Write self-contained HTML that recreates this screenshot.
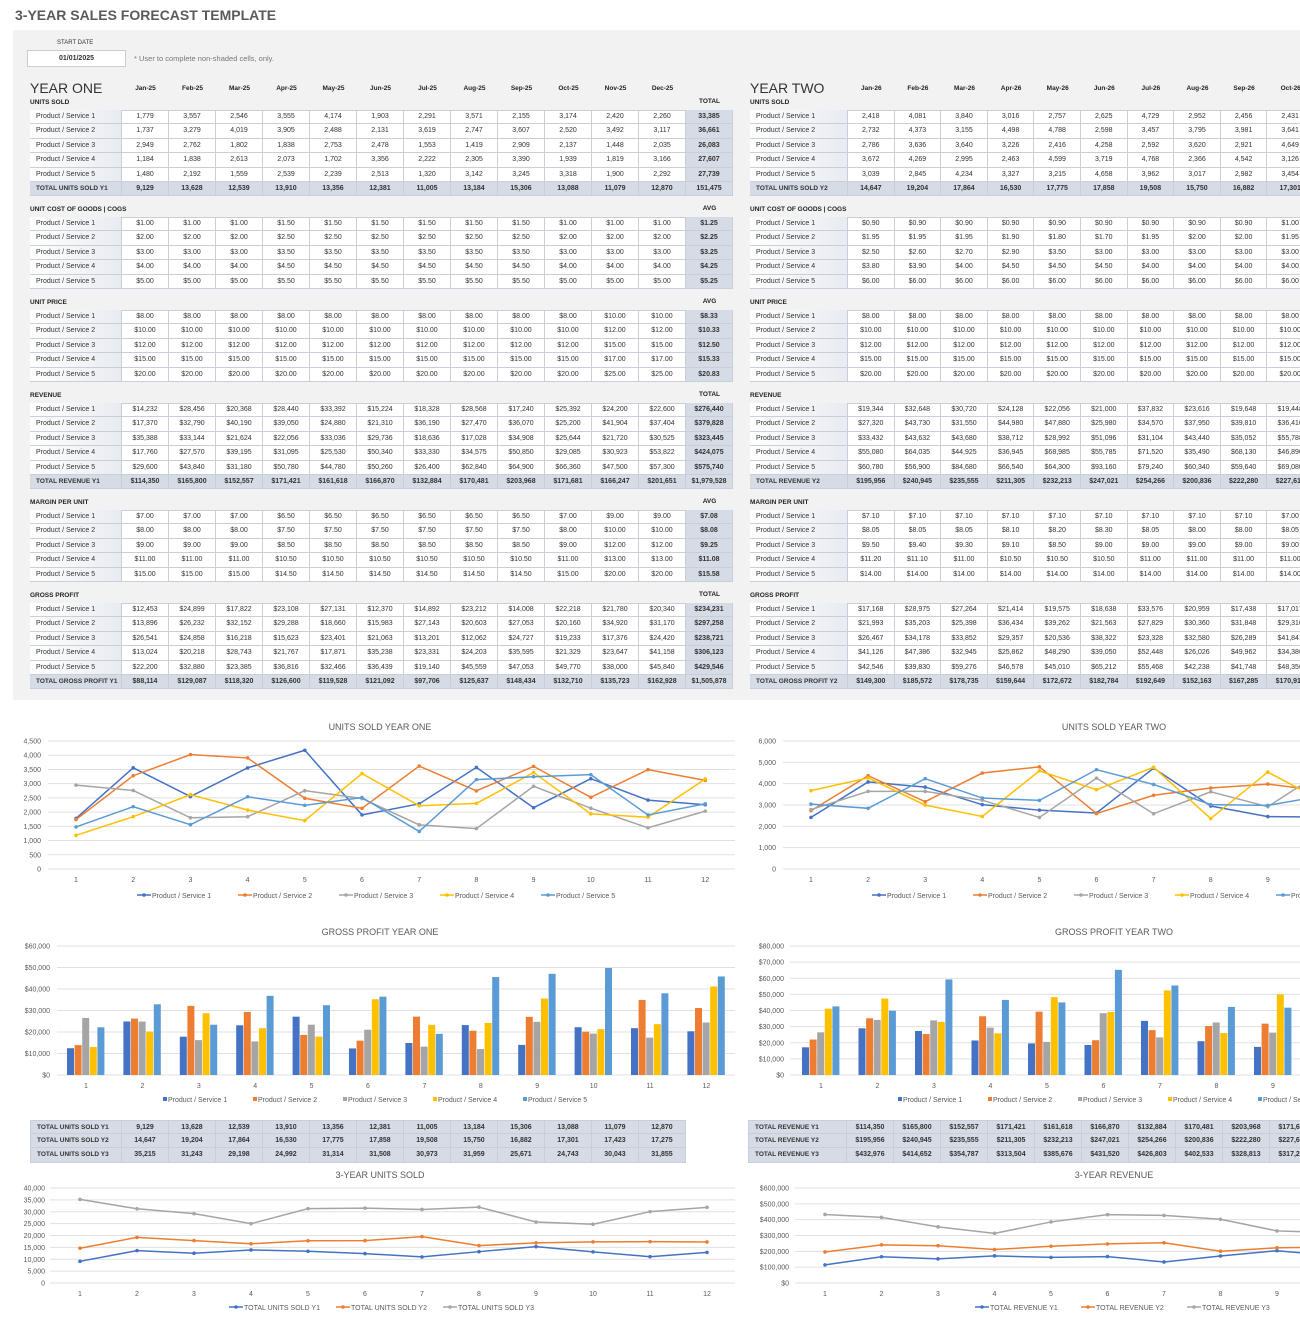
<!DOCTYPE html>
<html><head><meta charset="utf-8">
<style>
html,body{margin:0;padding:0;background:#fff;}
body{width:1300px;height:1337px;overflow:hidden;position:relative;font-family:"Liberation Sans",sans-serif;color:#333;}
.a{position:absolute;white-space:nowrap;}
.c{position:absolute;box-sizing:border-box;border-right:1px solid #c9ced8;border-bottom:1px solid #c9ced8;font-size:7px;line-height:13.4px;text-align:center;white-space:nowrap;overflow:hidden;}
.lab{text-align:left;padding-left:6px;background:linear-gradient(90deg,#fff,#e8ebf1);}
.tot{background:#d6dce6;font-weight:bold;}
.b{font-weight:bold;}
.h{font-size:6.5px;font-weight:bold;color:#222;}
#root{position:absolute;left:0;top:0;width:1300px;height:1337px;overflow:hidden;}
</style></head><body>
<div class="a" style="left:15px;top:7px;font-size:14px;font-weight:bold;color:#5a5a5a;">3-YEAR SALES FORECAST TEMPLATE</div>
<div class="a" style="left:13px;top:30px;width:1287px;height:670px;background:#f2f2f2;"></div>
<div class="a" style="left:57px;top:40px;font-size:6px;">START DATE</div>
<div class="a" style="left:27px;top:50px;width:99px;height:17px;background:#fff;border:1px solid #ccc;box-sizing:border-box;font-size:7px;font-weight:bold;text-align:center;line-height:16px;">01/01/2025</div>
<div class="a" style="left:134px;top:54px;font-size:7.5px;color:#777;">* User to complete non-shaded cells, only.</div>
<div id="root"></div>
<svg id="sv" class="a" style="left:0;top:0" width="1300" height="1337"></svg>
<script>
var R=document.getElementById('root');
function add(x,y,w,h,txt,cls,extra){var d=document.createElement('div');d.className=cls;d.style.left=x+'px';d.style.top=y+'px';if(w)d.style.width=w+'px';if(h)d.style.height=h+'px';d.textContent=txt;if(extra)d.setAttribute('style',d.getAttribute('style')+extra);R.appendChild(d);return d;}
function fi(n){return Math.round(n).toLocaleString('en-US');}
function fd(n){return '$'+Math.round(n).toLocaleString('en-US');}
function f2(n){return '$'+n.toFixed(2);}
var u1=[[1779,3557,2546,3555,4174,1903,2291,3571,2155,3174,2420,2260],[1737,3279,4019,3905,2488,2131,3619,2747,3607,2520,3492,3117],[2949,2762,1802,1838,2753,2478,1553,1419,2909,2137,1448,2035],[1184,1838,2613,2073,1702,3356,2222,2305,3390,1939,1819,3166],[1480,2192,1559,2539,2239,2513,1320,3142,3245,3318,1900,2292]];
var c1=[],p1=[];var bc=[1,2,3,4,5],bp=[8,10,12,15,20],bp2=[10,12,15,17,25];
for(var i=0;i<5;i++){c1.push([]);p1.push([]);for(var m=0;m<12;m++){c1[i].push(bc[i]+(m>=3&&m<=8?0.5:0));p1[i].push(m>=10?bp2[i]:bp[i]);}}
var u2=[[2418,4081,3840,3016,2757,2625,4729,2952,2456,2431,2600,2500],[2732,4373,3155,4498,4788,2598,3457,3795,3981,3641,3700,3600],[2786,3636,3640,3226,2416,4258,2592,3620,2921,4649,3500,3400],[3672,4269,2995,2463,4599,3719,4768,2366,4542,3126,4000,4100],[3039,2845,4234,3327,3215,4658,3962,3017,2982,3454,3623,3675]];
var c2=[[.9,.9,.9,.9,.9,.9,.9,.9,.9,1,1,1],[1.95,1.95,1.95,1.9,1.8,1.7,1.95,2,2,1.95,1.95,1.95],[2.5,2.6,2.7,2.9,3.5,3,3,3,3,3,3,3],[3.8,3.9,4,4.5,4.5,4.5,4,4,4,4,4,4],[6,6,6,6,6,6,6,6,6,6,6,6]];
var p2=[];for(i=0;i<5;i++){p2.push([]);for(m=0;m<12;m++)p2[i].push(bp[i]);}
function calc(u,c,p){var rev=[],mg=[],gp=[];for(var i=0;i<5;i++){rev.push([]);mg.push([]);gp.push([]);for(var m=0;m<12;m++){rev[i].push(u[i][m]*p[i][m]);mg[i].push(p[i][m]-c[i][m]);gp[i].push(u[i][m]*(p[i][m]-c[i][m]));}}return {rev:rev,mg:mg,gp:gp};}
var y1=calc(u1,c1,p1),y2=calc(u2,c2,p2);
function colsum(a){var s=[];for(var m=0;m<12;m++){var t=0;for(var i=0;i<5;i++)t+=a[i][m];s.push(t);}return s;}
var months1=['Jan-25','Feb-25','Mar-25','Apr-25','May-25','Jun-25','Jul-25','Aug-25','Sep-25','Oct-25','Nov-25','Dec-25'];
var months2=['Jan-26','Feb-26','Mar-26','Apr-26','May-26','Jun-26','Jul-26','Aug-26','Sep-26','Oct-26','Nov-26','Dec-26'];
function year(X,LW,CW,title,months,d,yr,hasTot){
 add(X,80,0,0,title,'a','font-size:14px;');
 for(var m=0;m<12;m++)add(X+LW+m*CW,85,CW,0,months[m],'a h','text-align:center;');
 var secs=[['UNITS SOLD',d.u,fi,'TOTAL',1,'TOTAL UNITS SOLD '+yr],['UNIT COST OF GOODS  |  COGS',d.c,f2,'AVG',0],['UNIT PRICE',d.p,f2,'AVG',0],['REVENUE',d.rev,fd,'TOTAL',1,'TOTAL REVENUE '+yr],['MARGIN PER UNIT',d.mg,f2,'AVG',0],['GROSS PROFIT',d.gp,fd,'TOTAL',1,'TOTAL GROSS PROFIT '+yr]];
 var tops=[110,217,310,403,510,603],RH=14.4;
 for(var s=0;s<6;s++){var S=secs[s],T=tops[s];
  add(X,T-11,0,0,S[0],'a h');
  var W=LW+12*CW+(hasTot?47:0);
  add(X,T,W,(S[4]?6:5)*RH,'','a','border-top:1px solid #c9ced8;border-left:1px solid #c9ced8;box-sizing:border-box;background:#fff;');
  if(hasTot)add(X+LW+12*CW,T-12,47,0,S[3],'a h','text-align:center;');
  for(var i=0;i<5;i++){var y=T+i*RH;
   add(X,y,LW,RH,'Product / Service '+(i+1),'c lab');
   var tt=0;for(var m=0;m<12;m++){add(X+LW+m*CW,y,CW,RH,S[2](S[1][i][m]),'c');tt+=S[1][i][m];}
   if(hasTot)add(X+LW+12*CW,y,47,RH,S[2](S[4]?tt:tt/12),'c tot');
  }
  if(S[4]){var y=T+5*RH,cs=colsum(S[1]),g=0;
   add(X,y,LW,RH,S[5],'c tot','text-align:left;padding-left:6px;font-size:6.5px;');
   for(var m=0;m<12;m++){add(X+LW+m*CW,y,CW,RH,S[2](cs[m]),'c tot');g+=cs[m];}
   if(hasTot)add(X+LW+12*CW,y,47,RH,S[2](g),'c tot');
  }
 }
}
year(30,92,47,'YEAR ONE',months1,{u:u1,c:c1,p:p1,rev:y1.rev,mg:y1.mg,gp:y1.gp},'Y1',true);
year(750,98,46.6,'YEAR TWO',months2,{u:u2,c:c2,p:p2,rev:y2.rev,mg:y2.mg,gp:y2.gp},'Y2',true);
var tu=[[9129,13628,12539,13910,13356,12381,11005,13184,15306,13088,11079,12870],[14647,19204,17864,16530,17775,17858,19508,15750,16882,17301,17423,17275],[35215,31243,29198,24992,31314,31508,30973,31959,25671,24743,30043,31855]];
var tr=[[114350,165800,152557,171421,161618,166870,132884,170481,203968,171681,166247,201651],colsum(y2.rev),[432976,414652,354787,313504,385676,431520,426803,402533,328813,317260,330000,345000]];
function sumt(X,LW,CW,names,data,f){for(var r=0;r<3;r++){var y=1120+r*14.2;add(X,y,LW,14.2,names[r],'c tot','text-align:left;padding-left:6px;font-size:6.5px;border-left:1px solid #c9ced8;'+(r==0?'border-top:1px solid #c9ced8;':''));for(var m=0;m<12;m++)add(X+LW+m*CW,y,CW,14.2,f(data[r][m]),'c tot',(r==0?'border-top:1px solid #c9ced8;':''));}}
sumt(30,92,47,['TOTAL UNITS SOLD Y1','TOTAL UNITS SOLD Y2','TOTAL UNITS SOLD Y3'],tu,fi);
sumt(748,99,47,['TOTAL REVENUE Y1','TOTAL REVENUE Y2','TOTAL REVENUE Y3'],tr,fd);
var SV=document.getElementById('sv'),H='';
var COL=['#4472C4','#ED7D31','#A5A5A5','#FFC000','#5B9BD5'];
function txt(x,y,t,sz,anc,col){H+='<text x="'+x+'" y="'+y+'" font-size="'+sz+'" text-anchor="'+(anc||'start')+'" fill="'+(col||'#595959')+'" font-family="Liberation Sans, sans-serif">'+t+'</text>';}
function chart(o){
 txt(o.tx,o.ty,o.title,9,'middle');
 var steps=o.max/o.step;
 for(var k=0;k<=steps;k++){var v=k*o.step,y=o.y0-(o.y0-o.y1)*v/o.max;H+='<line x1="'+o.gx0+'" x2="'+o.gx1+'" y1="'+y+'" y2="'+y+'" stroke="#e0e0e0" stroke-width="1"/>';txt(o.lx,y+2.5,(o.cur?'$':'')+v.toLocaleString('en-US'),7,'end');}
 for(var m=0;m<12;m++)txt(o.x0+m*o.dx,o.y0+13,m+1,7,'middle');
 function Y(v){return o.y0-(o.y0-o.y1)*v/o.max;}
 for(var s=0;s<o.data.length;s++){var d=o.data[s];
  if(o.bar){var bw=7.6;for(var m=0;m<12;m++){var x=o.x0+m*o.dx-2.5*bw+s*bw;H+='<rect x="'+x+'" y="'+Y(d[m])+'" width="'+(bw-0.6)+'" height="'+(o.y0-Y(d[m]))+'" fill="'+COL[s]+'"/>';}}
  else{var pts=[];for(var m=0;m<12;m++)pts.push((o.x0+m*o.dx)+','+Y(d[m]));H+='<polyline points="'+pts.join(' ')+'" fill="none" stroke="'+COL[s]+'" stroke-width="1.5"/>';for(var m=0;m<12;m++)H+='<circle cx="'+(o.x0+m*o.dx)+'" cy="'+Y(d[m])+'" r="1.8" fill="'+COL[s]+'"/>';}
 }
 for(var s=0;s<o.names.length;s++){var x=o.lgx+s*o.lgd;
  if(o.bar)H+='<rect x="'+x+'" y="'+(o.lgy-5)+'" width="4" height="4" fill="'+COL[s]+'"/>';
  else H+='<line x1="'+x+'" x2="'+(x+14)+'" y1="'+(o.lgy-3)+'" y2="'+(o.lgy-3)+'" stroke="'+COL[s]+'" stroke-width="1.5"/><circle cx="'+(x+7)+'" cy="'+(o.lgy-3)+'" r="1.8" fill="'+COL[s]+'"/>';
  txt(x+(o.bar?5:15),o.lgy,o.names[s],7,'start');}
}
var PN=['Product / Service 1','Product / Service 2','Product / Service 3','Product / Service 4','Product / Service 5'];
chart({title:'UNITS SOLD YEAR ONE',tx:380,ty:730,max:4500,step:500,y0:869,y1:741,gx0:48,gx1:735,lx:41,x0:76,dx:57.2,data:u1,names:PN,lgx:137,lgy:898,lgd:101});
chart({title:'UNITS SOLD YEAR TWO',tx:1114,ty:730,max:6000,step:1000,y0:869,y1:741,gx0:783,gx1:1300,lx:776,x0:811,dx:57.1,data:u2,names:PN,lgx:872,lgy:898,lgd:101});
chart({title:'GROSS PROFIT YEAR ONE',tx:380,ty:935,max:60000,step:10000,cur:1,y0:1075,y1:946,gx0:57,gx1:735,lx:50,x0:86,dx:56.4,data:y1.gp,names:PN,lgx:163,lgy:1102,lgd:90,bar:1});
chart({title:'GROSS PROFIT YEAR TWO',tx:1114,ty:935,max:80000,step:10000,cur:1,y0:1075,y1:946,gx0:790,gx1:1300,lx:784,x0:821,dx:56.5,data:y2.gp,names:PN,lgx:898,lgy:1102,lgd:90,bar:1});
chart({title:'3-YEAR UNITS SOLD',tx:380,ty:1178,max:40000,step:5000,y0:1283,y1:1188,gx0:50,gx1:735,lx:45,x0:80,dx:57,data:tu,names:['TOTAL UNITS SOLD Y1','TOTAL UNITS SOLD Y2','TOTAL UNITS SOLD Y3'],lgx:229,lgy:1310,lgd:107});
chart({title:'3-YEAR REVENUE',tx:1114,ty:1178,max:600000,step:100000,cur:1,y0:1283,y1:1188,gx0:795,gx1:1300,lx:789,x0:825,dx:56.5,data:tr,names:['TOTAL REVENUE Y1','TOTAL REVENUE Y2','TOTAL REVENUE Y3'],lgx:975,lgy:1310,lgd:106});
SV.innerHTML=H;
</script>
</body></html>
